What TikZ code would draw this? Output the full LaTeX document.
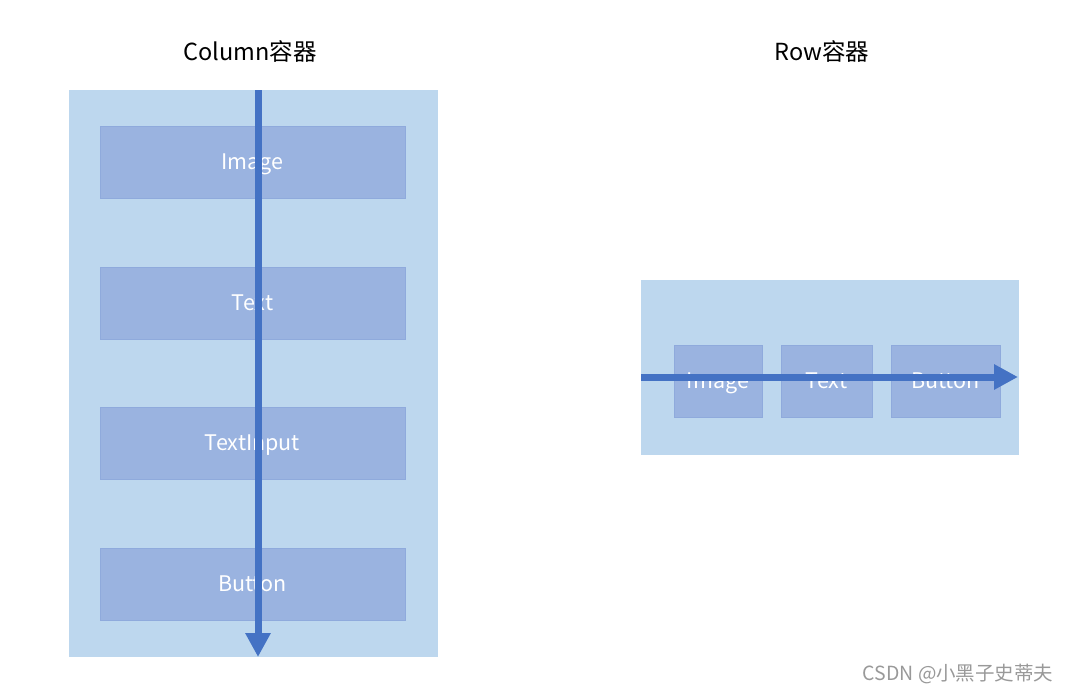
\documentclass[tikz,border=0pt]{standalone}
\usepackage{fontspec}
\setmainfont{Noto Sans CJK SC}
\usetikzlibrary{arrows.meta}
\definecolor{outerblue}{HTML}{BDD7EE}
\definecolor{innerblue}{HTML}{9AB3E0}
\definecolor{innerline}{HTML}{8FAADC}
\definecolor{arrowblue}{HTML}{4472C4}
\tikzset{
  outerbox/.style={fill=outerblue, draw=none, inner sep=0pt},
  itembox/.style={fill=innerblue, draw=innerline, line width=1pt, inner sep=0pt,
    text=white, font=\fontsize{21.5}{24}\selectfont, text depth=0pt},
  flow/.style={draw=arrowblue, line width=7pt,
    -{Triangle[length=24pt,width=24pt]}},
  title/.style={font=\fontsize{23.5}{26}\selectfont}
}
\begin{document}
\begin{tikzpicture}[x=1pt,y=-1pt]
  \useasboundingbox (0,0) rectangle (1072,694);

  % titles
  \node[title] (coltitle) at (250,51) {Column容器};
  \node[title] (rowtitle) at (822,51) {Row容器};

  % column container
  \node[outerbox, minimum width=369pt, minimum height=567pt] (col) at (253.5,373.5) {};
  \node[itembox, minimum width=305pt, minimum height=72pt] (cimage) at (252.5,162) {Image};
  \node[itembox, minimum width=305pt, minimum height=72pt] (ctext) at (252.5,303) {Text};
  \node[itembox, minimum width=305pt, minimum height=72pt] (cinput) at (252.5,443) {TextInput};
  \node[itembox, minimum width=305pt, minimum height=72pt] (cbutton) at (252.5,584) {Button};
  \coordinate (colstart) at (258,90);
  \coordinate (colend) at (258,657);
  \draw[flow] (colstart) -- (colend);

  % row container
  \node[outerbox, minimum width=378pt, minimum height=175pt] (row) at (830,367.5) {};
  \node[itembox, minimum width=88pt, minimum height=72pt] (rimage) at (718,381) {Image};
  \node[itembox, minimum width=91pt, minimum height=72pt] (rtext) at (826.5,381) {Text};
  \node[itembox, minimum width=109pt, minimum height=72pt] (rbutton) at (945.5,381) {Button};
  \coordinate (rowstart) at (641,377);
  \coordinate (rowend) at (1018,377);
  \draw[flow] (rowstart) -- (rowend);

  % watermark
  \node[anchor=east, text=black!40, font=\fontsize{19.5}{22}\selectfont] (mark) at (1057,674) {CSDN @小黑子史蒂夫};
\end{tikzpicture}
\end{document}
